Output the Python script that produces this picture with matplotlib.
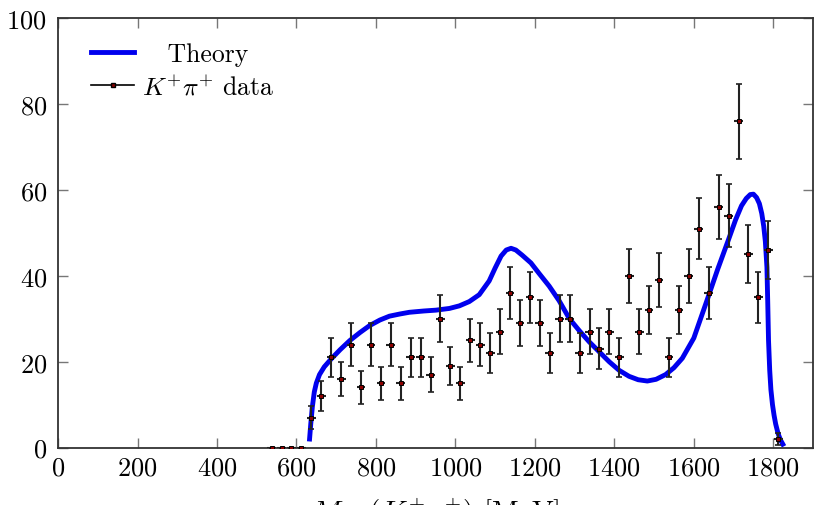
import numpy as np
import matplotlib
matplotlib.use("Agg")
import matplotlib.pyplot as plt
from matplotlib.lines import Line2D

plt.rcParams["font.family"] = "cmr10"
plt.rcParams["mathtext.fontset"] = "cm"
plt.rcParams["axes.formatter.use_mathtext"] = True
plt.rcParams["font.size"] = 19

# K+ pi+ invariant mass spectrum, 25 MeV bins
mass = [537.5, 562.5, 587.5, 612.5, 637.5, 662.5, 687.5, 712.5, 737.5, 762.5,
        787.5, 812.5, 837.5, 862.5, 887.5, 912.5, 937.5, 962.5, 987.5, 1012.5,
        1037.5, 1062.5, 1087.5, 1112.5, 1137.5, 1162.5, 1187.5, 1212.5, 1237.5,
        1262.5, 1287.5, 1312.5, 1337.5, 1362.5, 1387.5, 1412.5, 1437.5, 1462.5,
        1487.5, 1512.5, 1537.5, 1562.5, 1587.5, 1612.5, 1637.5, 1662.5, 1687.5,
        1712.5, 1737.5, 1762.5, 1787.5, 1812.5]
counts = [0, 0, 0, 0, 7, 12, 21, 16, 24, 14,
          24, 15, 24, 15, 21, 21, 17, 30, 19, 15,
          25, 24, 22, 27, 36, 29, 35, 29, 22,
          30, 30, 22, 27, 23, 27, 21, 40, 27,
          32, 39, 21, 32, 40, 51, 36, 56, 54,
          76, 45, 35, 46, 2]

# theory curve
theory_m = [633, 636, 640, 645, 650, 658, 670, 687, 710, 734, 760, 784, 810,
            834, 860, 884, 920, 951, 985, 1010, 1035, 1060, 1085, 1100, 1115,
            1128, 1140, 1152, 1168, 1190, 1211, 1236, 1261, 1287, 1312, 1337,
            1362, 1387, 1412, 1437, 1460, 1483, 1505, 1529, 1550, 1571, 1600,
            1634, 1660, 1688, 1705, 1720, 1732, 1742, 1750, 1758, 1765, 1771,
            1776, 1780, 1784, 1786, 1788, 1791, 1794, 1798, 1802, 1806, 1812,
            1818, 1824]
theory_y = [2.0, 5.5, 9.5, 13.0, 15.0, 17.0, 18.8, 20.6, 22.8, 24.9, 26.8,
            28.4, 29.7, 30.6, 31.1, 31.5, 31.8, 32.0, 32.4, 33.0, 34.0, 35.6,
            38.8, 41.8, 44.6, 46.0, 46.4, 46.0, 44.8, 43.0, 40.5, 37.6, 34.2,
            30.0, 27.2, 24.6, 22.3, 20.0, 18.0, 16.6, 15.8, 15.5, 15.9, 17.0,
            18.6, 20.8, 25.5, 34.5, 41.5, 48.6, 53.0, 56.3, 58.0, 58.9, 59.0,
            58.2, 56.8, 54.5, 51.5, 48.0, 42.0, 34.0, 25.0, 18.0, 13.5, 10.0,
            7.5, 5.5, 3.3, 1.8, 0.8]

mass = np.array(mass)
counts = np.array(counts, dtype=float)
err = np.sqrt(counts)

fig = plt.figure(figsize=(8.14, 5.06), dpi=100)
ax = fig.add_axes([0.0713, 0.1134, 0.9275, 0.849])

ax.plot(theory_m, theory_y, color="#0000ee", lw=3.5, zorder=2)

ax.errorbar(mass, counts, yerr=err, fmt="none", ecolor="#222222",
            elinewidth=1.5, capsize=2, capthick=1.2, zorder=3)
ax.errorbar(mass, counts, xerr=11, fmt="s", color="#222222", elinewidth=1.5,
            ms=3.2, mfc="#8b0000", mec="black", mew=0.7, zorder=4)

ax.set_xlim(0, 1900)
ax.set_ylim(0, 100)
ax.set_xticks(np.arange(0, 1801, 200))
ax.set_yticks(np.arange(0, 101, 20))
ax.tick_params(direction="in", length=7, width=1, top=True, right=True,
               labelsize=19, color="#777777")
ax.tick_params(axis="x", pad=6)
ax.tick_params(axis="y", pad=8)
for s in ax.spines.values():
    s.set_color("#333333")
    s.set_linewidth(1.3)

ax.set_xlabel(r"$M_{\rm inv}(K^{+}\pi^{+})$ [MeV]", fontsize=21)
ax.xaxis.set_label_coords(0.5, -0.112)

handles = [Line2D([], [], color="#0000ee", lw=3.5),
           Line2D([], [], color="black", lw=1.2, marker="s", ms=3,
                  mfc="#8b0000", mec="black")]
ax.legend(handles, ["   Theory", r"$K^{+}\pi^{+}$ data"], loc="upper left",
          bbox_to_anchor=(0.03, 0.968), frameon=False, fontsize=18.5,
          handlelength=1.68, handletextpad=0.3, borderaxespad=0,
          labelspacing=0.32)

fig.savefig("out.png", dpi=100)
